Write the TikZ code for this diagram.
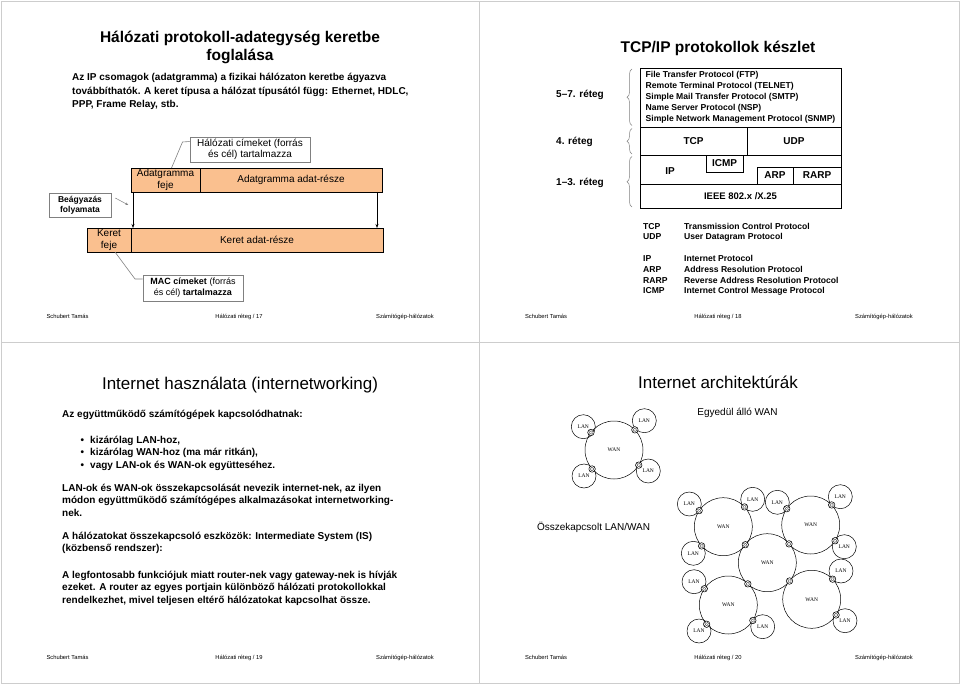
\documentclass[tikz,border=0pt]{standalone}
\usepackage{fontspec}
\setmainfont{Liberation Sans}
\newfontfamily\netfont{Liberation Serif}
\usetikzlibrary{arrows.meta,calc,positioning,decorations.pathreplacing}
\definecolor{cellorange}{RGB}{250,192,143}
\definecolor{notegray}{RGB}{128,128,128}
\definecolor{framegray}{RGB}{205,205,205}

\begin{document}
\begin{tikzpicture}[x=1pt,y=-1pt,
  slidetitle/.style={font=\fontsize{15.5}{18}\selectfont\bfseries,align=center,anchor=base},
  bigtitle/.style={font=\fontsize{17}{20}\selectfont,anchor=base},
  txt/.style={font=\fontsize{10}{13.5}\selectfont\bfseries,align=left,anchor=base west,inner sep=0},
  foot/.style={font=\fontsize{5.8}{7}\selectfont,inner sep=0,anchor=base},
  cell/.style={draw,fill=cellorange,line width=0.9pt,inner sep=0,outer sep=0,minimum height=24pt,align=center,font=\fontsize{10}{12}\selectfont},
  note/.style={draw=notegray,fill=white,line width=0.6pt,inner sep=0,align=center},
  stackbox/.style={draw,line width=0.8pt,inner sep=0,outer sep=0,font=\fontsize{10}{12}\selectfont\bfseries},
  lbl/.style={font=\fontsize{10}{12}\selectfont\bfseries,anchor=west,inner sep=0},
  brc/.style={draw=notegray,line width=0.5pt,decorate,decoration={brace,amplitude=5pt}},
  lan/.style={draw,circle,line width=0.5pt,minimum size=24pt,inner sep=0,font=\netfont\fontsize{5.5}{6}\selectfont},
  wan/.style={draw,circle,line width=0.5pt,minimum size=58pt,inner sep=0,font=\netfont\fontsize{5.5}{6}\selectfont},
  router/.style={draw,circle,fill=white,line width=0.5pt,minimum size=6.5pt,inner sep=0,
    path picture={\draw[line width=0.35pt,double,double distance=0.7pt]
      (path picture bounding box.north west)--(path picture bounding box.south east)
      (path picture bounding box.north east)--(path picture bounding box.south west);}}]
\useasboundingbox (0,0) rectangle (960,684);
\draw[framegray,line width=0.8pt] (1,1) rectangle (959,683) (479.5,1) -- (479.5,683) (1,342) -- (959,342);

\node[slidetitle] (t17) at (240,60.5) {Hálózati protokoll-adategység keretbe\\foglalása};
\node[txt] (p17) at (72,108) {Az IP csomagok (adatgramma) a fizikai hálózaton keretbe ágyazva\\továbbíthatók. A keret típusa a hálózat típusától függ: Ethernet, HDLC,\\PPP, Frame Relay, stb.};
\node[cell,minimum width=69pt] (dghead) at (165.5,180) {Adatgramma\\feje};
\node[cell,minimum width=182pt,right=0pt of dghead] (dgdata) {Adatgramma adat-része};
\node[cell,minimum width=44pt] (frhead) at (109,240) {Keret\\feje};
\node[cell,minimum width=252pt,right=0pt of frhead] (frdata) {Keret adat-része};
\node[note,minimum width=120pt,minimum height=25pt,font=\fontsize{10}{11.5}\selectfont] (ipnote) at (250,149.5) {Hálózati címeket (forrás\\és cél) tartalmazza};
\draw[notegray,line width=0.6pt] ([xshift=6pt]dghead.north) -- ++(11,-26) -- ([yshift=8pt]ipnote.west);
\node[note,minimum width=62pt,minimum height=24pt,font=\fontsize{8.5}{10}\selectfont\bfseries] (embnote) at (80,205) {Beágyazás\\folyamata};
\draw[notegray,line width=0.5pt,-{Stealth[length=3pt,width=2.5pt]}] ($(embnote.east)+(4,-7)$) -- ++(13,7);
\draw[line width=0.8pt,-{Stealth[length=4pt,width=3pt]}] ([xshift=2pt]dghead.south west) -- ([xshift=2pt]dghead.south west |- frdata.north);
\draw[line width=0.8pt,-{Stealth[length=4pt,width=3pt]}] ([xshift=-5pt]dgdata.south east) -- ([xshift=-5pt]dgdata.south east |- frdata.north);
\node[note,minimum width=100pt,minimum height=26pt,font=\fontsize{9}{11}\selectfont] (macnote) at (193,288) {\textbf{MAC címeket} (forrás\\és cél) \textbf{tartalmazza}};
\draw[notegray,line width=0.6pt] ([xshift=6pt]frhead.south) -- ++(20,27) -- ([yshift=9pt]macnote.west);

\node[slidetitle] (t18) at (718,52.5) {TCP/IP protokollok készlet};
\node[stackbox,minimum width=201pt,minimum height=59pt,align=left,font=\fontsize{8.6}{11}\selectfont\bfseries] (app) at (740.5,97.5) {File Transfer Protocol (FTP)\\Remote Terminal Protocol (TELNET)\\Simple Mail Transfer Protocol (SMTP)\\Name Server Protocol (NSP)\\Simple Network Management Protocol (SNMP)};
\node[stackbox,minimum width=107pt,minimum height=28pt,anchor=north west] (tcp) at (app.south west) {TCP};
\node[stackbox,minimum width=94pt,minimum height=28pt,right=0pt of tcp] (udp) {UDP};
\node[stackbox,minimum width=201pt,minimum height=29pt,anchor=north west] (net) at (tcp.south west) {};
\node[stackbox,minimum width=201pt,minimum height=24pt,anchor=north west,font=\fontsize{9.5}{11}\selectfont\bfseries] (ieee) at (net.south west) {IEEE 802.x /X.25};
\node[font=\fontsize{10}{12}\selectfont\bfseries,inner sep=0] (ip) at ($(net.west)+(30,2)$) {IP};
\node[stackbox,minimum width=37pt,minimum height=17pt,anchor=north west] (icmp) at ([xshift=66pt]net.north west) {ICMP};
\node[stackbox,minimum width=48pt,minimum height=17pt,anchor=south east] (rarp) at (net.south east) {RARP};
\node[stackbox,minimum width=36pt,minimum height=17pt,left=0pt of rarp] (arp) {ARP};
\draw[brc] ([xshift=-8pt,yshift=1.5pt]app.south west) -- ([xshift=-8pt,yshift=-1pt]app.north west);
\draw[brc] ([xshift=-8pt,yshift=1pt]tcp.south west) -- ([xshift=-8pt,yshift=-1.5pt]tcp.north west);
\draw[brc] ([xshift=-8pt,yshift=1pt]ieee.south west) -- ([xshift=-8pt,yshift=-1.5pt]net.north west);
\node[lbl] (l57) at (556,95) {5\textendash7. réteg};
\node[lbl] (l4) at (556,142) {4. réteg};
\node[lbl] (l13) at (556,183) {1\textendash3. réteg};
\node[txt,font=\fontsize{8.6}{10.8}\selectfont\bfseries] (abbr) at (643,294) {TCP\\UDP\\[10.8pt]IP\\ARP\\RARP\\ICMP};
\node[txt,font=\fontsize{8.6}{10.8}\selectfont\bfseries] (full) at (684,294) {Transmission Control Protocol\\User Datagram Protocol\\[10.8pt]Internet Protocol\\Address Resolution Protocol\\Reverse Address Resolution Protocol\\Internet Control Message Protocol};

\node[foot] (f17a) at (67.5,318) {Schubert Tamás};
\node[foot] (f17b) at (239,318) {Hálózati réteg / 17};
\node[foot] (f17c) at (405,318) {Számítógép-hálózatok};
\node[foot] (f18a) at (546,318) {Schubert Tamás};
\node[foot] (f18b) at (718,318) {Hálózati réteg / 18};
\node[foot] (f18c) at (884,318) {Számítógép-hálózatok};

\node[bigtitle] (t19) at (240,389) {Internet használata (internetworking)};
\node[txt,font=\fontsize{10}{12.8}\selectfont\bfseries] (q19) at (62,417) {Az együttműködő számítógépek kapcsolódhatnak:};
\node[txt,font=\fontsize{10}{12.6}\selectfont\bfseries] (b19) at (80.5,468.2) {\makebox[9.5pt][l]{•}kizárólag LAN-hoz,\\\makebox[9.5pt][l]{•}kizárólag WAN-hoz (ma már ritkán),\\\makebox[9.5pt][l]{•}vagy LAN-ok és WAN-ok együtteséhez.};
\node[txt,font=\fontsize{10}{12.8}\selectfont\bfseries] (p19a) at (62,516.6) {LAN-ok és WAN-ok összekapcsolását nevezik internet-nek, az ilyen\\módon együttműködő számítógépes alkalmazásokat internetworking-\\nek.};
\node[txt,font=\fontsize{10}{12.8}\selectfont\bfseries] (p19b) at (62,551.8) {A hálózatokat összekapcsoló eszközök: Intermediate System (IS)\\(közbenső rendszer):};
\node[txt,font=\fontsize{10}{12.6}\selectfont\bfseries] (p19c) at (62,603.2) {A legfontosabb funkciójuk miatt router-nek vagy gateway-nek is hívják\\ezeket. A router az egyes portjain különböző hálózati protokollokkal\\rendelkezhet, mivel teljesen eltérő hálózatokat kapcsolhat össze.};

\node[bigtitle] (t20) at (718,388) {Internet architektúrák};
\node[font=\fontsize{10}{12}\selectfont,inner sep=0] (alone) at (737.5,413) {Egyedül álló WAN};
\node[font=\fontsize{10}{12}\selectfont,inner sep=0] (joined) at (593.5,527) {Összekapcsolt LAN/WAN};

\node[wan] (wa) at (614,450) {WAN};
\node[lan] (la1) at (583.3,426.7) {LAN};
\node[lan] (la2) at (644.3,420.7) {LAN};
\node[lan] (la3) at (584,476) {LAN};
\node[lan] (la4) at (648.3,471) {LAN};
\node[router] (ra1) at ($(wa)!29pt!(la1)$) {};
\node[router] (ra2) at ($(wa)!29pt!(la2)$) {};
\node[router] (ra3) at ($(wa)!29pt!(la3)$) {};
\node[router] (ra4) at ($(wa)!29pt!(la4)$) {};

\node[wan] (w1) at (723.3,526.7) {WAN};
\node[wan] (w2) at (767.3,562.7) {WAN};
\node[wan] (w3) at (810.7,525) {WAN};
\node[wan] (w4) at (728.3,605) {WAN};
\node[wan] (w5) at (811.7,599.3) {WAN};
\node[lan] (l1) at (689.3,504) {LAN};
\node[lan] (l2) at (752.7,499.3) {LAN};
\node[lan] (l3) at (777.3,502.3) {LAN};
\node[lan] (l4) at (840.3,496.7) {LAN};
\node[lan] (l5) at (693.3,553.3) {LAN};
\node[lan] (l6) at (844.3,546.7) {LAN};
\node[lan] (l7) at (694,581.7) {LAN};
\node[lan] (l8) at (841,571) {LAN};
\node[lan] (l9) at (699,631) {LAN};
\node[lan] (l10) at (762.7,626.7) {LAN};
\node[lan] (l11) at (845,620.7) {LAN};
\node[router] (r1) at ($(w1)!29pt!(l1)$) {};
\node[router] (r2) at ($(w1)!29pt!(l2)$) {};
\node[router] (r3) at ($(w3)!29pt!(l3)$) {};
\node[router] (r4) at ($(w3)!29pt!(l4)$) {};
\node[router] (r5) at ($(w1)!29pt!(l5)$) {};
\node[router] (r6) at ($(w3)!29pt!(l6)$) {};
\node[router] (r7) at ($(w4)!29pt!(l7)$) {};
\node[router] (r8) at ($(w5)!29pt!(l8)$) {};
\node[router] (r9) at ($(w4)!29pt!(l9)$) {};
\node[router] (r10) at ($(w4)!29pt!(l10)$) {};
\node[router] (r11) at ($(w5)!29pt!(l11)$) {};
\node[router] (r12) at ($(w1)!0.5!(w2)$) {};
\node[router] (r13) at ($(w2)!0.5!(w3)$) {};
\node[router] (r14) at ($(w2)!0.5!(w4)$) {};
\node[router] (r15) at ($(w2)!0.5!(w5)$) {};

\node[foot] (f19a) at (67.5,659) {Schubert Tamás};
\node[foot] (f19b) at (239,659) {Hálózati réteg / 19};
\node[foot] (f19c) at (405,659) {Számítógép-hálózatok};
\node[foot] (f20a) at (546,659) {Schubert Tamás};
\node[foot] (f20b) at (718,659) {Hálózati réteg / 20};
\node[foot] (f20c) at (884,659) {Számítógép-hálózatok};
\end{tikzpicture}
\end{document}
